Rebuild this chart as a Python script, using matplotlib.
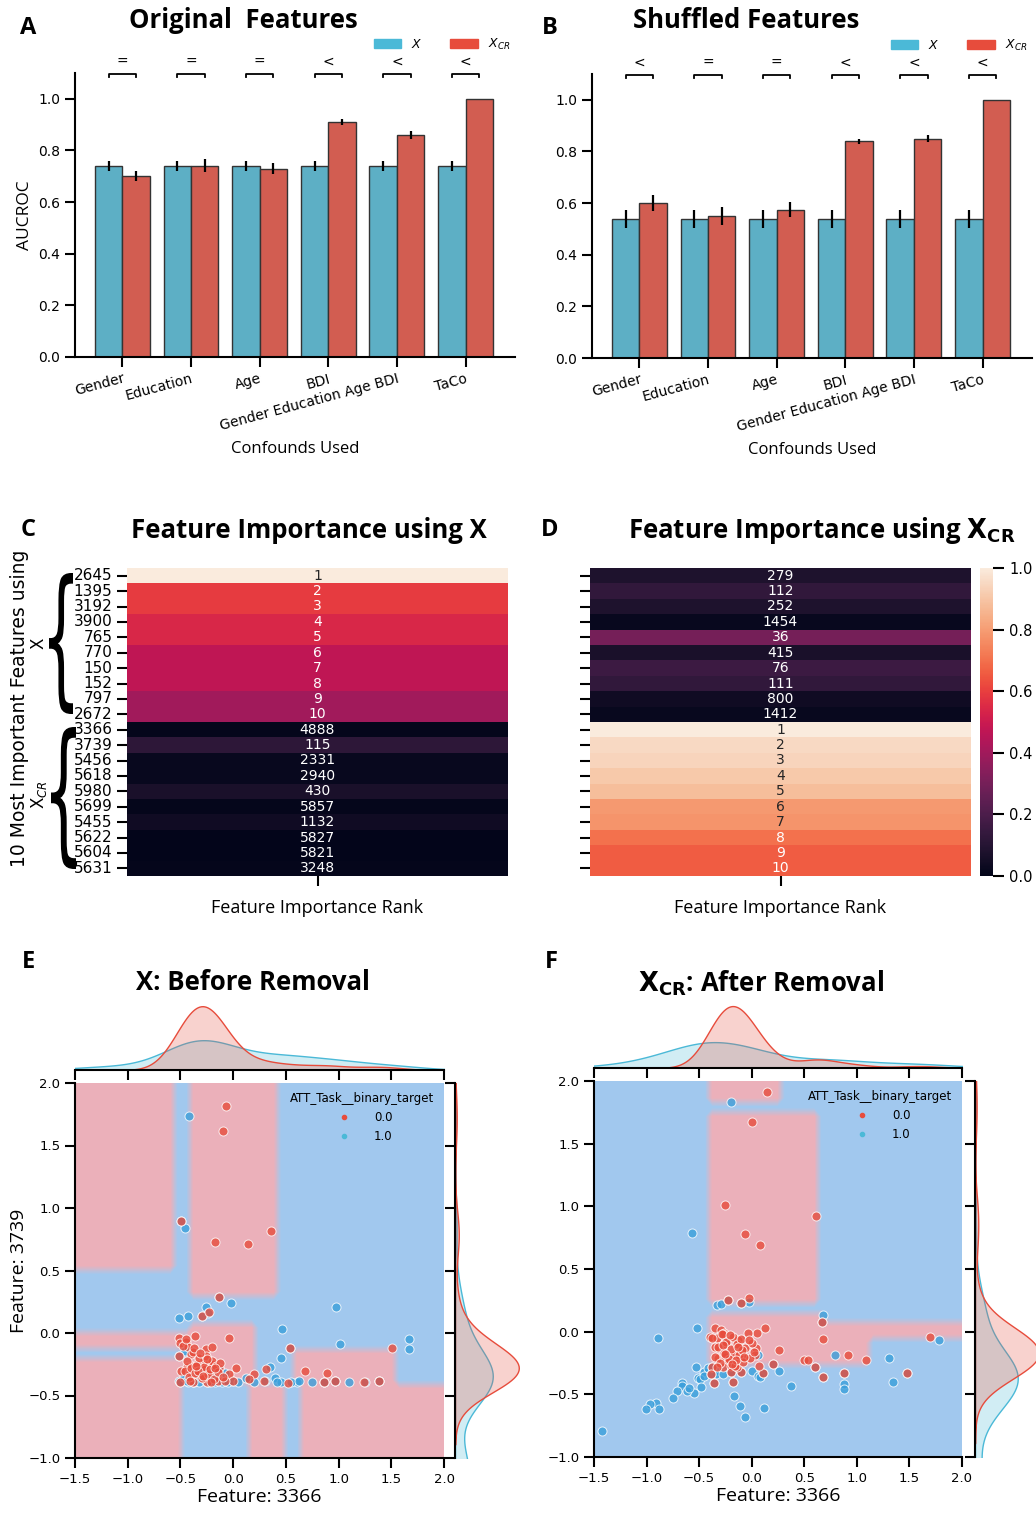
import colorsys
import numpy as np
import pandas as pd
import matplotlib
matplotlib.use('Agg')
import matplotlib.pyplot as plt
import matplotlib.colors as mcolors
from matplotlib.lines import Line2D
from matplotlib.patches import Patch, PathPatch
from matplotlib.textpath import TextPath
from matplotlib.font_manager import FontProperties
from matplotlib.transforms import Affine2D
import seaborn as sns

# ---------------- data ----------------
confounds = ['Gender', 'Education', 'Age', 'BDI', 'Gender Education Age BDI', 'TaCo']

orig_x = [0.74, 0.74, 0.74, 0.74, 0.74, 0.74]
orig_x_err = [0.02, 0.02, 0.02, 0.02, 0.02, 0.02]
orig_cr = [0.70, 0.74, 0.73, 0.91, 0.86, 1.00]
orig_cr_err = [0.02, 0.025, 0.02, 0.01, 0.015, 0.0]
orig_sig = ['=', '=', '=', '<', '<', '<']

shuf_x = [0.54, 0.54, 0.54, 0.54, 0.54, 0.54]
shuf_x_err = [0.035, 0.035, 0.035, 0.035, 0.035, 0.035]
shuf_cr = [0.60, 0.55, 0.575, 0.84, 0.85, 1.00]
shuf_cr_err = [0.03, 0.035, 0.03, 0.01, 0.015, 0.0]
shuf_sig = ['<', '=', '=', '<', '<', '<']

feat_ids = [2645, 1395, 3192, 3900, 765, 770, 150, 152, 797, 2672,
            3366, 3739, 5456, 5618, 5980, 5699, 5455, 5622, 5604, 5631]
rank_x = [1, 2, 3, 4, 5, 6, 7, 8, 9, 10,
          4888, 115, 2331, 2940, 430, 5857, 1132, 5827, 5821, 3248]
imp_x = [1.0, 0.59, 0.59, 0.54, 0.54, 0.47, 0.47, 0.47, 0.40, 0.40,
         0.01, 0.12, 0.02, 0.02, 0.07, 0.01, 0.04, 0.0, 0.0, 0.01]
rank_cr = [279, 112, 252, 1454, 36, 415, 76, 111, 800, 1412,
           1, 2, 3, 4, 5, 6, 7, 8, 9, 10]
imp_cr = [0.08, 0.13, 0.08, 0.02, 0.30, 0.07, 0.16, 0.13, 0.04, 0.02,
          1.0, 0.95, 0.94, 0.91, 0.88, 0.79, 0.78, 0.70, 0.66, 0.66]

# panel E points (class 0.0 / 1.0); some class 1.0 points lie below the shown range
e_x0 = [-0.07, -0.10, -0.17, 0.14, 0.36, -0.49, -0.13, -0.30, -0.23,
        -0.36, -0.04, -0.51, -0.50, -0.45, -0.43, -0.26, -0.20, -0.40, -0.51,
        -0.40, -0.44, -0.29, -0.23, -0.20, 0.03, -0.49, -0.41, -0.34, -0.22,
        -0.04, 0.00, 0.20, 0.29, 0.31, 0.54, 0.68, 0.89, 1.24, 1.51, 0.52,
        -0.14, -0.28, -0.38, -0.50, -0.27, -0.13, 0.15, 0.86, 0.97, 1.38,
        -0.25, -0.08,
        -0.48, -0.46, -0.44, -0.42, -0.40, -0.38, -0.36, -0.34, -0.32, -0.30,
        -0.28, -0.26, -0.24, -0.22, -0.20, -0.18, -0.16, -0.14, -0.12, -0.10,
        -0.45, -0.41, -0.37, -0.33, -0.29, -0.25, -0.21, -0.17, -0.35, -0.31]
e_y0 = [1.82, 1.62, 0.73, 0.71, 0.82, 0.90, 0.29, 0.14, 0.17,
        -0.02, -0.04, -0.04, -0.08, -0.07, -0.11, -0.13, -0.11, -0.17, -0.18,
        -0.26, -0.27, -0.23, -0.24, -0.25, -0.28, -0.30, -0.32, -0.33, -0.31,
        -0.33, -0.38, -0.33, -0.38, -0.29, -0.12, -0.30, -0.32, -0.39, -0.12, -0.40,
        -0.38, -0.36, -0.39, -0.39, -0.29, -0.28, -0.37, -0.39, -0.38, -0.38,
        -0.39, -0.38,
        -0.10, -0.30, -0.22, -0.35, -0.28, -0.15, -0.32, -0.25, -0.20, -0.36,
        -0.27, -0.18, -0.33, -0.29, -0.22, -0.37, -0.26, -0.31, -0.24, -0.35,
        -0.05, -0.38, -0.12, -0.30, -0.34, -0.21, -0.39, -0.28, -0.26, -0.16]
e_x1 = [-0.42, -0.46, -0.49, -0.02, -0.26, -0.24, -0.43, -0.51, -0.13, -0.30,
        0.98, 0.46, 1.01, 1.67, 1.67, -0.46, 0.45, 0.35, 0.40, 0.54, -0.51,
        -0.27, -0.13, -0.51, -0.43, -0.37, -0.25, -0.08, 0.15, 0.45, 0.61,
        0.86, 0.97, 1.38,
        -0.50, -0.47, -0.44, -0.41, -0.38, -0.35, -0.32, -0.29, -0.26, -0.23,
        -0.20, -0.17, -0.14, -0.11, -0.08, -0.05, 0.00, 0.05, 0.12, 0.20,
        0.30, 0.42, 0.55, 0.62, 0.75, 0.86, 0.97, 1.10, 1.25, 1.38,
        -1.45, -1.20, -1.00, -0.85, -0.70, -0.60, -0.50, -0.40, -0.30, -0.20,
        -0.05, 0.10, 0.30, 0.50, 0.80, 1.10, -1.30, -0.90, 0.60, 1.50]
e_y1 = [1.74, 0.84, 0.90, 0.24, 0.21, 0.16, 0.14, 0.12, 0.29, 0.14,
        0.21, 0.03, -0.09, -0.05, -0.13, -0.14, -0.20, -0.27, -0.36, -0.12, -0.18,
        -0.29, -0.28, -0.38, -0.39, -0.39, -0.39, -0.38, -0.37, -0.39, -0.39,
        -0.39, -0.38, -0.38,
        -0.39, -0.35, -0.38, -0.33, -0.39, -0.36, -0.39, -0.31, -0.38, -0.39,
        -0.34, -0.39, -0.37, -0.39, -0.32, -0.39, -0.38, -0.39, -0.36, -0.39,
        -0.38, -0.39, -0.39, -0.38, -0.39, -0.39, -0.38, -0.39, -0.39, -0.38,
        -1.05, -1.15, -1.10, -1.20, -1.30, -1.10, -1.05, -1.25, -1.15, -1.10,
        -1.20, -1.05, -1.30, -1.10, -1.20, -1.15, -1.35, -1.10, -1.25, -1.05]

# panel F points
f_x0 = [0.15, 0.00, -0.25, 0.61, -0.06, 0.08, -0.03, -0.23, -0.10,
        -0.35, -0.29, -0.26, -0.40, -0.33, -0.24, -0.13, -0.35, -0.24, -0.27,
        0.13, 0.05, 0.04, 0.26, 0.68, 0.92, 1.09, 1.70,
        -0.32, -0.25, -0.17, -0.07, -0.15, -0.23, 0.03, -0.27, -0.20,
        0.50, 0.54, 0.60, 0.68, 0.88, 1.48, 0.20, 0.11, 0.07, -0.18, -0.36,
        -0.38, -0.39, -0.20, -0.10, -0.14, 0.67,
        -0.38, -0.35, -0.32, -0.30, -0.28, -0.26, -0.24, -0.22, -0.20, -0.18,
        -0.16, -0.14, -0.12, -0.10, -0.08, -0.06, -0.04, -0.02, 0.00, 0.02,
        -0.33, -0.27, -0.21, -0.15, -0.09, -0.03, -0.25, -0.19, -0.13, -0.07]
f_y0 = [1.91, 1.67, 1.01, 0.92, 0.78, 0.69, 0.27, 0.25, 0.23,
        0.03, 0.01, -0.01, -0.04, -0.05, -0.07, -0.07, -0.12, -0.10, -0.02,
        0.03, -0.01, -0.13, -0.15, -0.06, -0.19, -0.23, -0.04,
        -0.21, -0.20, -0.19, -0.21, -0.25, -0.24, -0.19, -0.28, -0.27,
        -0.23, -0.23, -0.28, -0.36, -0.33, -0.33, -0.26, -0.33, -0.27, -0.40, -0.41,
        -0.28, -0.34, -0.32, -0.32, -0.28, 0.08,
        -0.05, -0.20, -0.12, -0.25, -0.02, -0.17, -0.08, -0.22, -0.14, -0.04,
        -0.27, -0.10, -0.19, -0.06, -0.24, -0.13, -0.01, -0.21, -0.09, -0.16,
        -0.28, -0.11, -0.03, -0.23, -0.15, -0.07, -0.18, -0.26, -0.12, -0.20]
f_x1 = [-0.20, -0.57, -0.89, -0.52, -0.33, -0.29, -0.03, -0.23, -0.10, 0.68, 0.67,
        1.78, 1.31, 1.34, 0.88, 0.88, 0.37, 0.26, 0.00, 0.06, 0.08, 0.12, -0.11,
        -0.06, -0.17, -0.53, -0.45, -0.42, -0.34, -0.34, -0.27, -0.51, -0.49,
        -0.45, -0.48, -0.55, -0.66, -0.66, -0.71, -0.62, -0.60, -0.75, -0.91,
        -0.97, -1.01, -0.88, -1.42, -0.25, 0.06, 0.79,
        0.60, 0.68, 0.88, 1.48, 0.20, 0.11, -0.18, -0.36, -0.38, -0.39, -0.20, -0.10,
        -1.30, -0.90, -0.50, 0.30, 0.80, 1.20, 1.60, 1.90]
f_y1 = [1.83, 0.79, -0.05, 0.03, 0.21, 0.22, 0.24, 0.25, 0.23, 0.13, 0.08,
        -0.07, -0.21, -0.40, -0.42, -0.46, -0.43, -0.31, -0.31, -0.35, -0.36, -0.61, -0.59,
        -0.68, -0.51, -0.28, -0.32, -0.29, -0.31, -0.34, -0.34, -0.37, -0.38,
        -0.35, -0.44, -0.49, -0.41, -0.43, -0.47, -0.47, -0.45, -0.53, -0.57,
        -0.58, -0.62, -0.62, -0.79, -0.05, -0.19, -0.19,
        -0.28, -0.36, -0.33, -0.33, -0.26, -0.33, -0.40, -0.41, -0.28, -0.34, -0.32, -0.32,
        -1.15, -1.30, -1.10, -1.25, -1.40, -1.20, -1.10, -1.35]

# decision regions predicted as class 0.0: (x_min, x_max, y_min, y_max)
e_regions0 = [(-1.5, -0.52, 0.53, 2.0), (-0.38, 0.40, 0.29, 2.0),
              (-1.5, -0.40, -0.13, 0.0), (-1.5, -0.40, -0.43, -0.17),
              (-0.40, 0.25, -0.43, 0.10), (0.54, 1.52, -0.43, -0.11),
              (-1.5, -0.50, -1.0, -0.43), (0.13, 0.48, -1.0, -0.43),
              (0.62, 2.0, -1.0, -0.40)]
f_regions0 = [(-0.40, 0.30, 1.82, 2.0), (-0.42, 0.67, 0.25, 1.74),
              (-0.42, 0.68, -0.25, 0.15), (0.68, 2.0, -0.09, 0.08),
              (0.68, 1.16, -0.25, -0.09)]

# ---------------- style ----------------
plt.rcParams['font.family'] = ['DejaVu Sans']
plt.rcParams['axes.linewidth'] = 1.5
for a in ('xtick', 'ytick'):
    plt.rcParams[a + '.major.width'] = 1.5
    plt.rcParams[a + '.major.size'] = 7
TITLE_FONT = 'Open Sans'
TITLE_SIZE = 18.5

BLUE = '#4bb9d7'
RED = '#e74c3c'
PT_BLUE = '#3a9fdb'


def desat(c, prop=0.75):
    h, l, s = colorsys.rgb_to_hls(*mcolors.to_rgb(c))
    return colorsys.hls_to_rgb(h, l, s * prop)


W, H = 1036, 1513
fig = plt.figure(figsize=(W / 100, H / 100), dpi=100)


def px_axes(l, t, r, b, **kw):
    return fig.add_axes([l / W, 1 - b / H, (r - l) / W, (b - t) / H], **kw)


def ftext(x, y, s, **kw):
    fig.text(x / W, 1 - y / H, s, **kw)


# ---------------- A / B bar panels ----------------
def bar_panel(ax, xv, xe, cv, ce, sig, title, tx):
    pos = np.arange(len(confounds))
    ekw = dict(ecolor='black', elinewidth=1.6, capsize=0)
    ax.bar(pos - 0.2, xv, 0.4, yerr=xe, color=desat(BLUE), edgecolor='#333333',
           linewidth=1, error_kw=ekw)
    ax.bar(pos + 0.2, cv, 0.4, yerr=ce, color=desat(RED), edgecolor='#333333',
           linewidth=1, error_kw=ekw)
    for p, s in zip(pos, sig):
        ax.plot([p - 0.2, p - 0.2, p + 0.2, p + 0.2], [1.085, 1.097, 1.097, 1.085],
                color='black', lw=1.3, clip_on=False)
        ax.text(p, 1.143, s, ha='center', va='center', fontsize=10)
    ax.set_xlim(-0.69, 5.72)
    ax.set_ylim(0, 1.1)
    ax.set_yticks(np.arange(0, 1.01, 0.2))
    ax.tick_params(labelsize=10)
    ax.set_xticks(pos)
    ax.set_xticklabels(confounds, rotation=15, ha='right', rotation_mode='anchor')
    ax.set_xlabel('Confounds Used', fontsize=12, fontfamily=TITLE_FONT, labelpad=6)
    for s in ('top', 'right'):
        ax.spines[s].set_visible(False)
    ax.legend([Patch(color=BLUE), Patch(color=RED)], ['$X$', '$X_{CR}$'], ncol=2,
              frameon=False, loc='center right', bbox_to_anchor=(1.0, 1.1),
              fontsize=9, handlelength=2.2, handleheight=0.8, columnspacing=2.2,
              borderaxespad=0)
    ftext(tx, 21, title, ha='center', va='center', fontsize=TITLE_SIZE, fontweight='bold',
          fontfamily=TITLE_FONT)


axA = px_axes(75, 73, 515, 357)
bar_panel(axA, orig_x, orig_x_err, orig_cr, orig_cr_err, orig_sig, 'Original  Features', 243)
axA.set_ylabel('AUCROC', fontsize=12.5, fontfamily=TITLE_FONT, labelpad=4)
axB = px_axes(592, 74, 1032, 358)
bar_panel(axB, shuf_x, shuf_x_err, shuf_cr, shuf_cr_err, shuf_sig, 'Shuffled Features', 746)

# ---------------- C / D heatmaps ----------------
rocket = sns.color_palette('rocket', as_cmap=True)
axC = px_axes(127, 568, 508, 876)
sns.heatmap(np.array(imp_x).reshape(-1, 1), ax=axC, cmap=rocket, vmin=0, vmax=1,
            annot=np.array(rank_x).reshape(-1, 1), fmt='d', cbar=False,
            annot_kws={'fontsize': 10}, xticklabels=[''], yticklabels=feat_ids)
axC.set_yticklabels([str(v) for v in feat_ids], rotation=0, fontsize=11)
axC.set_xlabel('Feature Importance Rank', fontsize=13, fontfamily=TITLE_FONT, labelpad=6)
ftext(309, 530, 'Feature Importance using X', ha='center', va='center', fontsize=TITLE_SIZE,
      fontweight='bold', fontfamily=TITLE_FONT)

axD = px_axes(590, 568, 971, 876)
cax = px_axes(980, 568, 993, 876)
sns.heatmap(np.array(imp_cr).reshape(-1, 1), ax=axD, cmap=rocket, vmin=0, vmax=1,
            annot=np.array(rank_cr).reshape(-1, 1), fmt='d', cbar_ax=cax,
            annot_kws={'fontsize': 10}, xticklabels=[''], yticklabels=[''] * 20)
axD.set_yticks(np.arange(20) + 0.5)
axD.set_yticklabels([''] * 20)
axD.set_xlabel('Feature Importance Rank', fontsize=13, fontfamily=TITLE_FONT, labelpad=6)
cax.set_yticks(np.arange(0, 1.01, 0.2))
cax.tick_params(labelsize=10.5, length=8, width=1.5)
ftext(822, 530, r'Feature Importance using $\mathbf{X_{CR}}$', ha='center', va='center',
      fontsize=TITLE_SIZE, fontweight='bold', fontfamily=TITLE_FONT)

ftext(20, 708, '10 Most Important Features using', rotation=90, ha='center',
      va='center', fontsize=13.5)
ftext(38, 643, 'X', rotation=90, ha='center', va='center', fontsize=12)
ftext(39, 795, r'X$_{CR}$', rotation=90, ha='center', va='center', fontsize=12)


def brace(x0, y0, x1, y1):
    tp = TextPath((0, 0), '{', size=100, prop=FontProperties(family='DejaVu Sans'))
    ext = tp.get_extents()
    tr = (Affine2D().translate(-ext.x0, -ext.y0)
          .scale((x1 - x0) / ext.width / W, (y1 - y0) / ext.height / H)
          .translate(x0 / W, 1 - y1 / H))
    fig.add_artist(PathPatch(tr.transform_path(tp), transform=fig.transFigure,
                             facecolor='black', lw=0))


brace(49, 573, 73, 714)
brace(51, 727, 76, 869)

# ---------------- E / F joint panels ----------------
bg_cmap = mcolors.LinearSegmentedColormap.from_list('bg', ['#ecb0b9', '#a0c8ef'])


def joint_panel(main, top, right, x0, y0, x1, y1, regions, title, tx, ylabel):
    ax = px_axes(*main)
    axt = px_axes(*top, sharex=ax)
    axr = px_axes(*right, sharey=ax)

    gx, gy = np.meshgrid(np.linspace(-1.5, 2.0, 51), np.linspace(-1.0, 2.0, 44))
    z = np.ones_like(gx)
    for a, b, c, d in regions:
        z[(gx >= a) & (gx <= b) & (gy >= c) & (gy <= d)] = 0
    ax.contourf(gx, gy, z, levels=np.linspace(0, 1, 25), cmap=bg_cmap)

    ax.scatter(x1, y1, s=42, color=PT_BLUE, alpha=0.8, edgecolor='white', linewidth=0.7, zorder=3)
    ax.scatter(x0, y0, s=42, color=RED, alpha=0.8, edgecolor='white', linewidth=0.7, zorder=3)

    df = pd.DataFrame({'x': list(x0) + list(x1), 'y': list(y0) + list(y1),
                       'target': [0.0] * len(x0) + [1.0] * len(x1)})
    pal = {0.0: RED, 1.0: BLUE}
    sns.kdeplot(data=df, x='x', hue='target', ax=axt, fill=True, palette=pal,
                legend=False, linewidth=1, alpha=0.25, common_norm=False)
    sns.kdeplot(data=df, y='y', hue='target', ax=axr, fill=True, palette=pal,
                legend=False, linewidth=1, alpha=0.25, common_norm=False)

    ax.set_xlim(-1.5, 2.0)
    ax.set_ylim(-1.0, 2.0)
    ax.set_xticks(np.arange(-1.5, 2.01, 0.5))
    ax.set_yticks(np.arange(-1.0, 2.01, 0.5))
    ax.tick_params(labelsize=9.5)
    for s in ('top', 'right'):
        ax.spines[s].set_visible(False)
    ax.set_xlabel('Feature: 3366', fontsize=14, fontfamily=TITLE_FONT, labelpad=2)
    if ylabel:
        ax.set_ylabel('Feature: 3739', fontsize=14, fontfamily=TITLE_FONT, labelpad=0)

    axt.set_ylim(bottom=0)
    axt.tick_params(axis='x', labelbottom=False)
    axt.set_yticks([])
    axt.set_xlabel('')
    axt.set_ylabel('')
    for s in ('top', 'right', 'left'):
        axt.spines[s].set_visible(False)
    axr.set_xlim(left=0)
    axr.tick_params(axis='y', labelleft=False)
    axr.set_xticks([])
    axr.set_xlabel('')
    axr.set_ylabel('')
    for s in ('top', 'right', 'bottom'):
        axr.spines[s].set_visible(False)
    axt.patch.set_alpha(0)
    axr.patch.set_alpha(0)

    handles = [Line2D([], [], marker='o', ls='', color=RED, markersize=3),
               Line2D([], [], marker='o', ls='', color=BLUE, markersize=3)]
    ax.legend(handles, ['0.0', '1.0'], title='ATT_Task__binary_target', frameon=False,
              loc='upper right', fontsize=8.5, title_fontsize=8.5, borderaxespad=0.4,
              handletextpad=1.5)
    ftext(tx, 983, title, ha='center', va='center', fontsize=TITLE_SIZE, fontweight='bold',
          fontfamily=TITLE_FONT)


joint_panel((75, 1083, 444, 1458), (75, 1003, 444, 1070), (455, 1083, 522, 1458),
            e_x0, e_y0, e_x1, e_y1, e_regions0, 'X: Before Removal', 253, True)
joint_panel((594, 1081, 962, 1457), (594, 1003, 962, 1068), (975, 1081, 1042, 1457),
            f_x0, f_y0, f_x1, f_y1, f_regions0, r'$\mathbf{X_{CR}}$: After Removal', 761, False)

# panel letters
for letter, (lx, ly) in zip('ABCDEF', [(28, 28), (550, 28), (28, 530), (550, 530),
                                     (28, 962), (551, 962)]):
    ftext(lx, ly, letter, ha='center', va='center', fontsize=17, fontweight='bold',
          fontfamily=TITLE_FONT)

fig.savefig('out.png', dpi=100)
